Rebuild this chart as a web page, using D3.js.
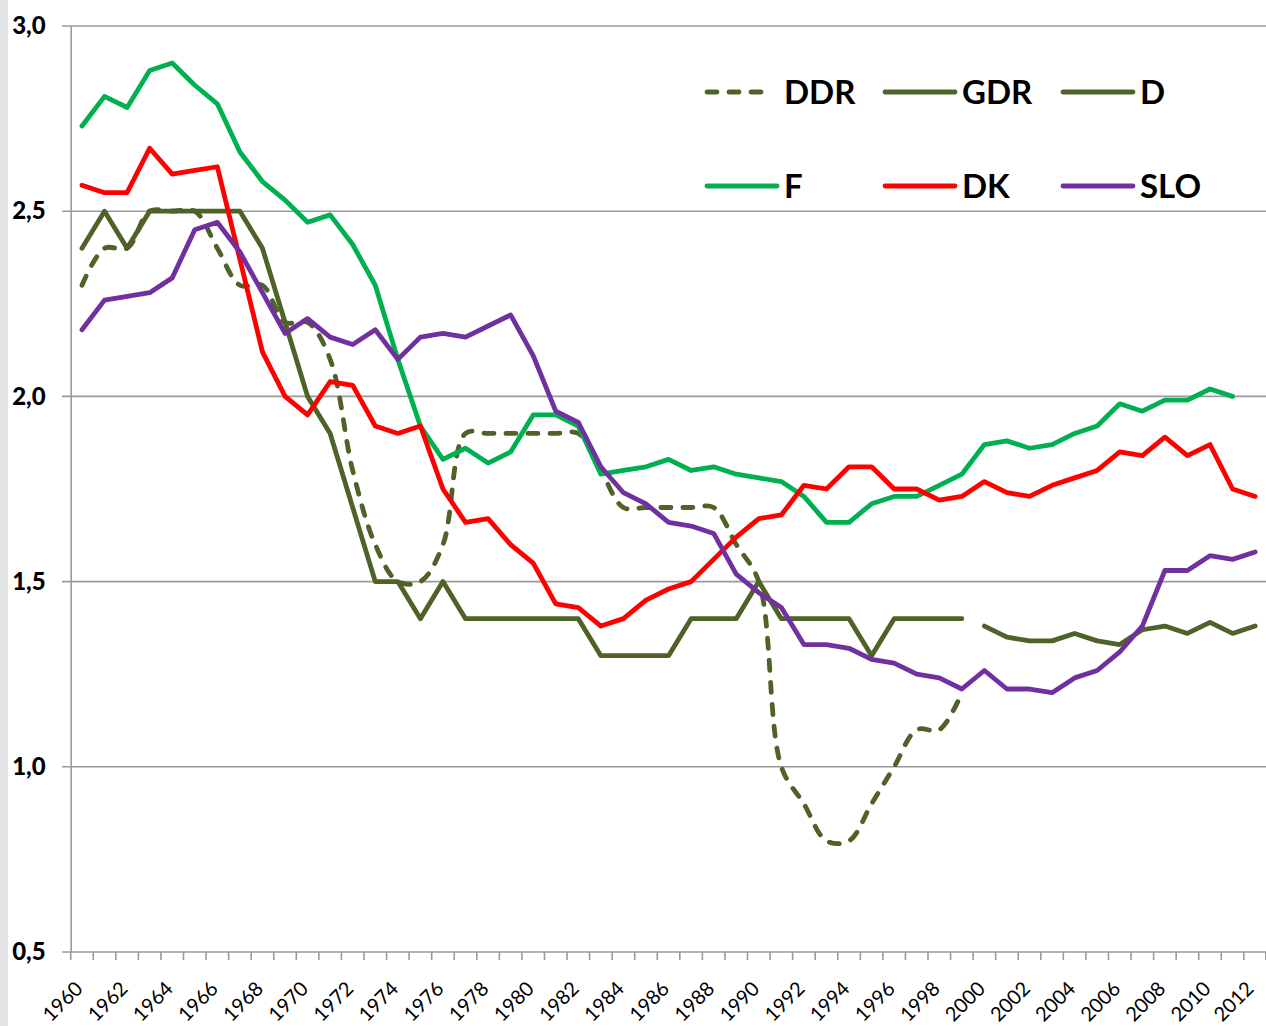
<!DOCTYPE html>
<html>
<head>
<meta charset="utf-8">
<script src="https://cdn.jsdelivr.net/npm/d3@7"></script>
<style>
  html, body { margin: 0; padding: 0; background: #ffffff; }
  svg { display: block; }
</style>
</head>
<body>
<svg id="chart" width="1266" height="1026"></svg>
<script>
// ---------- DATA ----------
const years = [1960,1961,1962,1963,1964,1965,1966,1967,1968,1969,
               1970,1971,1972,1973,1974,1975,1976,1977,1978,1979,
               1980,1981,1982,1983,1984,1985,1986,1987,1988,1989,
               1990,1991,1992,1993,1994,1995,1996,1997,1998,1999,
               2000,2001,2002,2003,2004,2005,2006,2007,2008,2009,
               2010,2011,2012];
const yTicks = [0.5, 1.0, 1.5, 2.0, 2.5, 3.0];
const xTickLabels = [1960,1962,1964,1966,1968,1970,1972,1974,1976,1978,1980,1982,1984,1986,
                     1988,1990,1992,1994,1996,1998,2000,2002,2004,2006,2008,2010,2012];

const DDR = [2.3,2.4,2.4,2.5,2.5,2.5,2.4,2.3,2.3,2.2,
             2.2,2.1,1.8,1.6,1.5,1.5,1.6,1.9,1.9,1.9,
             1.9,1.9,1.9,1.8,1.7,1.7,1.7,1.7,1.7,1.6,
             1.5,1.0,0.9,0.8,0.8,0.9,1.0,1.1,1.1,1.2,
             null,null,null,null,null,null,null,null,null,null,
             null,null,null];
const GDR = [2.4,2.5,2.4,2.5,2.5,2.5,2.5,2.5,2.4,2.2,
             2.0,1.9,1.7,1.5,1.5,1.4,1.5,1.4,1.4,1.4,
             1.4,1.4,1.4,1.3,1.3,1.3,1.3,1.4,1.4,1.4,
             1.5,1.4,1.4,1.4,1.4,1.3,1.4,1.4,1.4,1.4,
             null,null,null,null,null,null,null,null,null,null,
             null,null,null];
const D   = [null,null,null,null,null,null,null,null,null,null,
             null,null,null,null,null,null,null,null,null,null,
             null,null,null,null,null,null,null,null,null,null,
             null,null,null,null,null,null,null,null,null,null,
             1.38,1.35,1.34,1.34,1.36,1.34,1.33,1.37,1.38,1.36,
             1.39,1.36,1.38];
const F   = [2.73,2.81,2.78,2.88,2.90,2.84,2.79,2.66,2.58,2.53,
             2.47,2.49,2.41,2.30,2.10,1.92,1.83,1.86,1.82,1.85,
             1.95,1.95,1.92,1.79,1.80,1.81,1.83,1.80,1.81,1.79,
             1.78,1.77,1.73,1.66,1.66,1.71,1.73,1.73,1.76,1.79,
             1.87,1.88,1.86,1.87,1.90,1.92,1.98,1.96,1.99,1.99,
             2.02,2.00,null];
const DK  = [2.57,2.55,2.55,2.67,2.60,2.61,2.62,2.37,2.12,2.00,
             1.95,2.04,2.03,1.92,1.90,1.92,1.75,1.66,1.67,1.60,
             1.55,1.44,1.43,1.38,1.40,1.45,1.48,1.50,1.56,1.62,
             1.67,1.68,1.76,1.75,1.81,1.81,1.75,1.75,1.72,1.73,
             1.77,1.74,1.73,1.76,1.78,1.80,1.85,1.84,1.89,1.84,
             1.87,1.75,1.73];
const SLO = [2.18,2.26,2.27,2.28,2.32,2.45,2.47,2.39,2.28,2.17,
             2.21,2.16,2.14,2.18,2.10,2.16,2.17,2.16,2.19,2.22,
             2.11,1.96,1.93,1.81,1.74,1.71,1.66,1.65,1.63,1.52,
             1.47,1.43,1.33,1.33,1.32,1.29,1.28,1.25,1.24,1.21,
             1.26,1.21,1.21,1.20,1.24,1.26,1.31,1.38,1.53,1.53,
             1.57,1.56,1.58];

const seriesNames  = ["DDR", "GDR", "D", "F", "DK", "SLO"];
const seriesValues = [DDR, GDR, D, F, DK, SLO];
const seriesColors = ["#4F6228", "#4F6228", "#4F6228", "#00B050", "#FF0000", "#7030A0"];
const seriesDashed = [true, false, false, false, false, false];

// ---------- LAYOUT ----------
const svg = d3.select("#chart");
const plotLeft = 70.7, plotRight = 1266.4, plotTop = 26, plotBottom = 952;

svg.append("rect").attr("x", 0).attr("y", 0).attr("width", 8).attr("height", 1026).attr("fill", "#e3e3e3");

const x = d3.scaleBand().domain(years).range([plotLeft, plotRight]).paddingInner(0).paddingOuter(0);
const y = d3.scaleLinear().domain([0.5, 3.0]).range([plotBottom, plotTop]);
const cx = yr => x(yr) + x.bandwidth() / 2;

const commaFmt = v => d3.format(".1f")(v).replace(".", ",");
const gridColor = "#9a9a9a";

// gridlines
svg.append("g").selectAll("line").data(yTicks).join("line")
  .attr("x1", 62).attr("x2", plotRight)
  .attr("y1", d => y(d)).attr("y2", d => y(d))
  .attr("stroke", gridColor).attr("stroke-width", 1.6);

// y axis
const yAxis = svg.append("g").attr("transform", `translate(${plotLeft},0)`)
  .call(d3.axisLeft(y).tickValues(yTicks).tickFormat(commaFmt).tickSize(0).tickPadding(25));
yAxis.select(".domain").attr("stroke", gridColor).attr("stroke-width", 1.6);
yAxis.selectAll("text")
  .attr("font-family", "Lato, 'Open Sans', sans-serif")
  .attr("font-weight", "900").attr("font-size", 24).attr("fill", "#000");

// x axis ticks at category boundaries
const boundaries = years.map(yr => x(yr)).concat([plotRight - 0.6]);
svg.append("g").selectAll("line").data(boundaries).join("line")
  .attr("x1", d => d).attr("x2", d => d)
  .attr("y1", plotBottom).attr("y2", plotBottom + 8)
  .attr("stroke", gridColor).attr("stroke-width", 1.6);

// x labels
svg.append("g").selectAll("text").data(xTickLabels).join("text")
  .attr("transform", d => `translate(${Math.min(cx(d) - 3, 1250)},${plotBottom + 33}) rotate(-45)`)
  .attr("text-anchor", "end")
  .attr("dy", "0.35em")
  .attr("font-family", "Lato, 'Open Sans', sans-serif")
  .attr("font-size", 20).attr("fill", "#000")
  .text(d => d);

// ---------- LINES ----------
const lineSolid = d3.line()
  .defined(d => d.v !== null)
  .x(d => cx(d.year)).y(d => y(d.v));
const lineSmooth = d3.line()
  .defined(d => d.v !== null)
  .x(d => cx(d.year)).y(d => y(d.v))
  .curve(d3.curveCatmullRom.alpha(0.5));

seriesNames.forEach((name, i) => {
  const data = years.map((yr, j) => ({ year: yr, v: seriesValues[i][j] }));
  svg.append("path")
    .datum(data)
    .attr("d", seriesDashed[i] ? lineSmooth : lineSolid)
    .attr("fill", "none")
    .attr("stroke", seriesColors[i])
    .attr("stroke-width", 4.8)
    .attr("stroke-linejoin", "round")
    .attr("stroke-linecap", "round")
    .attr("stroke-dasharray", seriesDashed[i] ? "10,12" : null);
});

// ---------- LEGEND ----------
const legendCols = [707, 885, 1063];
const legendRows = [92, 186];
const legend = svg.append("g");
seriesNames.forEach((name, i) => {
  const col = i % 3, row = Math.floor(i / 3);
  const lx = legendCols[col], ly = legendRows[row];
  const g = legend.append("g");
  g.append("line")
    .attr("x1", lx).attr("x2", lx + (seriesDashed[i] ? 61 : 70))
    .attr("y1", ly).attr("y2", ly)
    .attr("stroke", seriesColors[i]).attr("stroke-width", 4.8)
    .attr("stroke-linecap", "round")
    .attr("stroke-dasharray", seriesDashed[i] ? "10,12" : null);
  g.append("text")
    .attr("x", lx + 77).attr("y", ly)
    .attr("dy", "0.36em")
    .attr("font-family", "Lato, 'Open Sans', sans-serif")
    .attr("font-weight", "bold").attr("font-size", 33).attr("fill", "#000")
    .text(name);
});
</script>
</body>
</html>
